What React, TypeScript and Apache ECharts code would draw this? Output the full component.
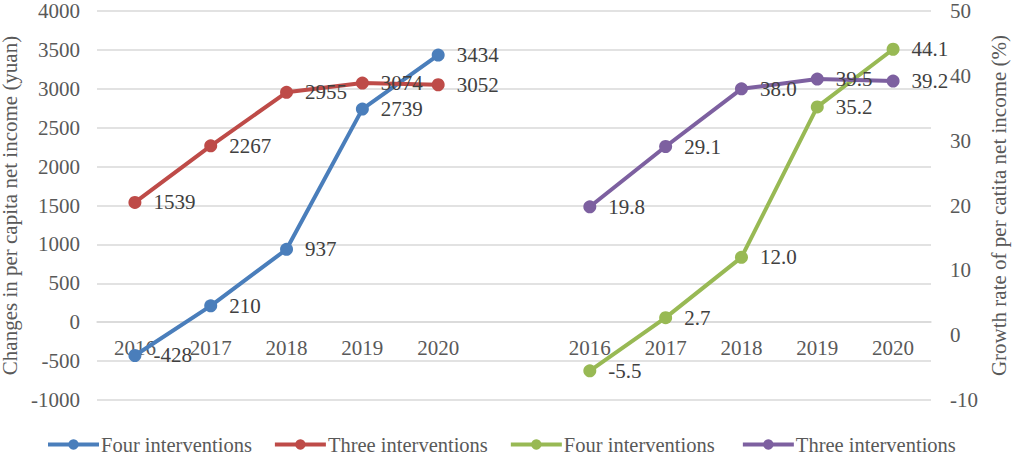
import React, { useEffect, useRef } from "react";
import * as echarts from "echarts";

const categories = ["2016", "2017", "2018", "2019", "2020", "", "2016", "2017", "2018", "2019", "2020"];
const fourIncome = [-428, 210, 937, 2739, 3434, null, null, null, null, null, null];
const threeIncome = [1539, 2267, 2955, 3074, 3052, null, null, null, null, null, null];
const fourRate = [null, null, null, null, null, null, -5.5, 2.7, 12.0, 35.2, 44.1];
const threeRate = [null, null, null, null, null, null, 19.8, 29.1, 38.0, 39.5, 39.2];
const leftTicks = { min: -1000, max: 4000, interval: 500 };
const rightTicks = { min: -10, max: 50, interval: 10 };

const FONT = "'Liberation Serif', 'Times New Roman', serif";
const FS = 21;

const GRID_TOP = 11;
const GRID_BOTTOM = 57;
const PLOT_H = 457 - GRID_TOP - GRID_BOTTOM;
// distance from grid bottom to the left axis' zero line
const ZERO_OFFSET = (-leftTicks.min / (leftTicks.max - leftTicks.min)) * PLOT_H;

function mkSeries(name: string, data: (number | null)[], color: string, yAxisIndex: number, decimals: number) {
  return {
    name,
    type: "line",
    data,
    yAxisIndex,
    symbol: "circle",
    symbolSize: 13,
    lineStyle: { color, width: 4 },
    itemStyle: { color },
    label: {
      show: true,
      position: "right",
      distance: 12,
      color: "#404040",
      fontFamily: FONT,
      fontSize: FS,
      formatter: (p: any) => Number(p.value).toFixed(decimals),
    },
  };
}

export default function App() {
  const ref = useRef<HTMLDivElement>(null);
  useEffect(() => {
    if (!ref.current) return;
    const chart = echarts.init(ref.current, undefined, { renderer: "svg" });
    chart.setOption({
      animation: false,
      backgroundColor: "#ffffff",
      textStyle: { fontFamily: FONT },
      grid: { left: 97, right: 82, top: GRID_TOP, bottom: GRID_BOTTOM, containLabel: false, outerBoundsMode: "none" },
      legend: {
        left: 46,
        top: 434,
        padding: 0,
        itemWidth: 51,
        itemHeight: 13,
        itemGap: 21,
        lineStyle: { width: 4 },
        textStyle: { fontFamily: FONT, fontSize: 20.5, lineHeight: 21, color: "#595959", padding: [0, 0, 0, -3] },
        data: ["Four interventions", "Three interventions", "Four interventions ", "Three interventions "],
      },
      xAxis: {
        type: "category",
        data: categories,
        position: "bottom",
        offset: -ZERO_OFFSET,
        axisLine: { show: true, onZero: false, lineStyle: { color: "#d9d9d9", width: 1.5 } },
        axisTick: { show: false },
        axisLabel: { interval: 0, margin: 15, color: "#595959", fontFamily: FONT, fontSize: FS },
        splitLine: { show: false },
      },
      yAxis: [
        {
          type: "value",
          ...leftTicks,
          name: "Changes in per capita net income (yuan)",
          nameLocation: "middle",
          nameRotate: 90,
          nameGap: 66,
          nameTextStyle: { fontFamily: FONT, fontSize: FS, color: "#595959" },
          axisLine: { show: false },
          axisTick: { show: false },
          axisLabel: { margin: 17, color: "#595959", fontFamily: FONT, fontSize: FS, formatter: (v: number) => String(v) },
          splitLine: { show: true, lineStyle: { color: "#d9d9d9", width: 1.5 } },
        },
        {
          type: "value",
          ...rightTicks,
          position: "right",
          name: "Growth rate of per catita net income (%)",
          nameLocation: "middle",
          nameRotate: 90,
          nameGap: 56,
          nameTextStyle: { fontFamily: FONT, fontSize: FS, color: "#595959" },
          axisLine: { show: false },
          axisTick: { show: false },
          axisLabel: { margin: 19, color: "#595959", fontFamily: FONT, fontSize: FS, formatter: (v: number) => String(v) },
          splitLine: { show: false },
        },
      ],
      series: [
        mkSeries("Four interventions", fourIncome, "#4a7ebb", 0, 0),
        mkSeries("Three interventions", threeIncome, "#be4b48", 0, 0),
        mkSeries("Four interventions ", fourRate, "#98b954", 1, 1),
        mkSeries("Three interventions ", threeRate, "#7d60a0", 1, 1),
      ],
    });
    return () => chart.dispose();
  }, []);
  return <div ref={ref} style={{ width: 1013, height: 457, position: "absolute", left: 0, top: 0 }} />;
}
